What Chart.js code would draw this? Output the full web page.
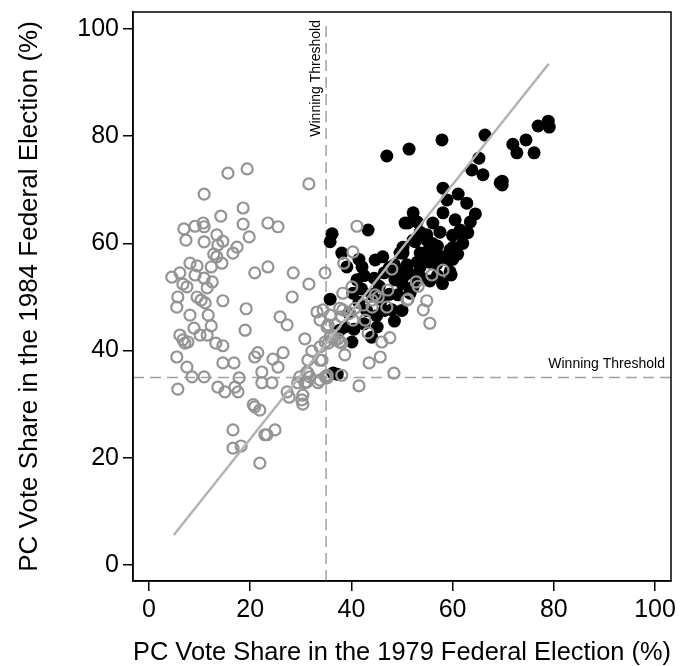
<!DOCTYPE html>
<html>
<head>
<meta charset="utf-8">
<script src="https://cdn.jsdelivr.net/npm/chart.js@4.4.1/dist/chart.umd.min.js"></script>
<style>
  html, body { margin: 0; padding: 0; background: #fff; }
  canvas { display: block; }
</style>
</head>
<body>
<canvas id="grafico" width="691" height="666"></canvas>
<script>
const xTicks = [0, 20, 40, 60, 80, 100];
const yTicks = [0, 20, 40, 60, 80, 100];
const umbral = 35;
const etiquetaUmbral = "Winning Threshold";

// recta ajustada (extremos)
const lineaX = [4.9, 79.0];
const lineaY = [5.6, 93.5];

// escanos perdidos en 1984 (circulos grises)
const grises = [
  [15.6,73.1],[19.4,73.9],[10.9,69.2],[14.2,65.1],[18.6,66.6],[18.6,63.6],[23.5,63.8],[25.5,63.1],
  [6.9,62.7],[9.1,63.2],[10.7,63.8],[10.9,63.1],[7.3,60.6],[10.9,60.3],[13.4,61.6],[14.6,60.4],
  [13.6,59.7],[17.4,59.3],[19.8,61.2],[16.6,58.2],[12.8,58.0],[13.4,57.5],[14.4,56.3],[12.3,55.6],
  [8.1,56.3],[9.5,55.8],[6.1,54.5],[4.5,53.7],[9.1,54.1],[10.9,53.5],[12.5,52.8],[6.7,52.4],
  [7.5,51.9],[11.5,51.7],[9.5,50.0],[5.7,50.0],[10.3,49.4],[11.1,48.9],[14.6,49.3],[20.9,54.5],
  [23.5,55.6],[19.2,47.8],[5.5,48.1],[31.6,71.1],[28.5,54.5],[31.6,52.4],[28.3,50.0],[34.8,54.5],
  [8.1,46.6],[11.7,46.6],[12.3,44.6],[8.9,44.2],[19.0,43.8],[6.1,42.9],[6.7,42.0],[7.7,41.6],
  [7.1,41.4],[10.1,42.9],[11.5,42.9],[13.2,41.4],[14.6,40.9],[5.5,38.8],[7.5,36.9],[8.5,35.1],
  [10.9,35.1],[14.6,37.7],[16.8,37.7],[20.9,38.8],[21.5,39.6],[17.8,34.9],[13.6,33.2],[15.0,32.3],
  [17.0,33.2],[17.6,32.3],[5.7,32.8],[22.3,36.0],[22.3,34.0],[20.6,29.9],[20.9,29.5],[21.9,28.9],
  [16.6,25.2],[16.6,21.8],[18.2,22.2],[21.9,19.0],[22.9,24.3],[25.9,46.3],[27.3,44.8],[30.8,42.2],
  [32.2,39.9],[26.5,39.6],[24.5,38.4],[25.5,36.9],[24.3,34.0],[31.4,38.2],[33.8,38.2],[31.2,36.0],
  [29.8,35.1],[31.8,35.1],[31.2,34.1],[33.8,34.5],[35.2,34.9],[27.3,32.3],[27.7,31.3],[30.4,31.7],
  [30.2,30.8],[30.4,30.0],[24.9,25.2],[23.3,24.3],[33.2,47.2],[34.4,47.6],[33.8,45.7],[35.4,44.8],
  [37.7,47.9],[38.3,50.7],[36.4,42.4],[35.4,41.4],[37.4,42.2],[38.1,41.4],[38.7,39.2],[34.8,35.1],
  [38.1,35.4],[31.4,35.8],[30.8,34.0],[29.4,34.0],[33.4,34.0],[41.1,63.2],[40.3,58.4],[38.5,56.3],
  [48.0,55.2],[52.8,52.8],[40.1,51.9],[44.7,50.4],[47.2,51.3],[44.1,49.4],[45.3,50.0],[51.0,49.4],
  [47.0,48.1],[44.1,48.1],[42.3,48.5],[40.7,47.9],[39.7,47.0],[40.3,45.7],[38.3,47.6],[38.1,46.3],
  [35.8,46.6],[35.2,44.4],[36.8,44.8],[42.7,45.7],[43.3,43.3],[35.8,42.5],[36.8,42.0],[37.7,41.6],
  [34.8,41.6],[33.8,40.7],[46.0,41.6],[47.6,42.4],[45.7,38.8],[43.5,37.7],[34.2,38.2],[35.2,35.4],
  [48.4,35.8],[41.5,33.4],[58.1,55.0],[55.9,54.1],[53.2,52.0],[51.2,49.6],[54.9,49.3],[54.2,47.6],
  [55.5,45.1]
];

// escanos ganados (circulos negros)
const negros = [
  [36.2,61.8],[35.8,60.3],[43.3,62.5],[38.1,58.2],[39.1,55.6],[42.1,55.6],[44.7,56.9],[46.2,57.5],
  [49.6,58.2],[51.0,55.0],[48.6,53.2],[51.6,51.3],[41.1,53.2],[40.3,50.7],[49.2,50.4],[48.0,47.6],
  [35.8,49.6],[38.7,44.4],[37.7,43.8],[45.1,44.4],[40.1,41.6],[36.4,35.8],[37.2,35.6],[50.6,63.8],
  [52.2,60.6],[53.0,64.0],[63.8,73.7],[66.0,72.8],[69.4,71.3],[58.1,70.3],[61.1,69.2],[62.8,67.5],
  [52.2,65.7],[51.2,63.8],[58.1,65.7],[60.5,64.4],[56.1,63.8],[62.1,61.6],[53.6,62.1],[57.5,62.1],
  [52.6,60.3],[54.9,60.6],[59.5,58.8],[60.1,59.3],[50.2,58.2],[53.6,58.2],[56.1,58.4],[51.0,56.0],
  [53.6,55.6],[57.9,57.5],[59.1,56.9],[59.5,54.7],[50.2,53.7],[52.2,51.9],[51.6,50.7],[56.9,56.2],
  [51.4,77.6],[57.9,79.3],[66.4,80.2],[65.2,75.9],[69.8,71.6],[69.8,70.9],[71.9,78.5],[74.5,79.3],
  [72.7,76.9],[76.1,76.9],[76.9,81.9],[78.9,82.8],[79.1,81.7],[58.9,68.1],[59.7,54.1],[54.9,61.6],
  [50.2,59.3],[47.0,76.3],[41.5,57.0],[42.5,54.0],[44.5,53.5],[45.5,52.0],[46.5,54.5],[47.5,55.5],
  [48.5,56.0],[49.0,54.0],[50.0,52.5],[50.5,55.0],[52.5,54.0],[53.0,56.5],[54.5,57.0],[55.0,58.5],
  [56.0,60.0],[57.0,59.5],[55.5,56.5],[54.0,53.5],[55.5,53.0],[57.0,54.0],[58.0,52.5],[60.0,57.0],
  [61.0,58.0],[62.0,60.0],[63.0,62.0],[61.5,62.5],[60.0,61.5],[63.5,64.0],[64.5,65.5],[44.0,50.5],
  [46.0,49.5],[47.5,50.5],[43.0,47.5],[45.0,46.5],[42.5,45.0],[39.5,47.0],[41.5,49.0],[42.0,51.5],
  [48.5,45.5],[50.0,47.5],[44.0,42.5],[40.5,44.0],[46.5,47.5]
];

const fuente = "'Liberation Sans', Arial, Helvetica, sans-serif";

const aPuntos = arr => arr.map(p => ({ x: p[0], y: p[1] }));

// lineas de umbral y marco
const umbralPlugin = {
  id: "umbral",
  beforeDatasetsDraw(chart) {
    const { ctx, chartArea, scales } = chart;
    const px = scales.x.getPixelForValue(umbral);
    const py = scales.y.getPixelForValue(umbral);
    ctx.save();
    ctx.strokeStyle = "#a0a0a0";
    ctx.lineWidth = 1.5;
    ctx.setLineDash([11, 6]);
    ctx.beginPath();
    ctx.moveTo(px, chartArea.bottom);
    ctx.lineTo(px, chartArea.top + 8);
    ctx.moveTo(chartArea.left, py);
    ctx.lineTo(chartArea.right, py);
    ctx.stroke();
    ctx.setLineDash([]);
    ctx.fillStyle = "#000";
    ctx.font = "14px " + fuente;
    ctx.textAlign = "right";
    ctx.textBaseline = "middle";
    ctx.fillText(etiquetaUmbral, chartArea.right - 6, py - 13);
    ctx.translate(px - 10, chartArea.top + 8);
    ctx.rotate(-Math.PI / 2);
    ctx.fillText(etiquetaUmbral, 0, 0);
    ctx.restore();
  },
  afterDraw(chart) {
    const { ctx, chartArea } = chart;
    ctx.save();
    ctx.strokeStyle = "#000";
    ctx.lineWidth = 1.5;
    ctx.strokeRect(chartArea.left, chartArea.top, chartArea.right - chartArea.left, chartArea.bottom - chartArea.top);
    ctx.restore();
  }
};

const soloTicks = vals => scale => { scale.ticks = vals.map(v => ({ value: v })); };
const sinRelleno = s => { s.paddingTop = 0; s.paddingBottom = 0; s.paddingLeft = 0; s.paddingRight = 0; };

new Chart(document.getElementById("grafico"), {
  type: "scatter",
  data: {
    datasets: [
      {
        type: "line",
        data: lineaX.map((x, i) => ({ x, y: lineaY[i] })),
        borderColor: "#b3b3b3",
        borderWidth: 2.5,
        pointRadius: 0,
        fill: false
      },
      {
        data: aPuntos(grises),
        pointRadius: 5.5,
        borderWidth: 2.2,
        borderColor: "#949494",
        backgroundColor: "rgba(255,255,255,0)"
      },
      {
        data: aPuntos(negros),
        pointRadius: 6.5,
        borderWidth: 0,
        backgroundColor: "#000"
      }
    ]
  },
  options: {
    responsive: false,
    animation: false,
    layout: { padding: { top: 12, right: 20, left: 0, bottom: 0 } },
    plugins: { legend: { display: false }, tooltip: { enabled: false } },
    scales: {
      x: {
        type: "linear",
        min: -3.16,
        max: 103.16,
        afterBuildTicks: soloTicks(xTicks),
        afterFit(scale) { scale.height = 85; sinRelleno(scale); },
        grid: { drawOnChartArea: false, drawTicks: true, tickLength: 10, color: "#000", lineWidth: 1.5 },
        border: { display: true, color: "#000", width: 1.5 },
        ticks: { color: "#000", font: { family: fuente, size: 25 }, padding: 4, maxRotation: 0 },
        title: {
          display: true,
          text: "PC Vote Share in the 1979 Federal Election (%)",
          color: "#000",
          font: { family: fuente, size: 26, lineHeight: 1.0 },
          padding: { top: 0, bottom: 0 }
        }
      },
      y: {
        type: "linear",
        min: -2.99,
        max: 103.17,
        afterBuildTicks: soloTicks(yTicks),
        afterFit(scale) { scale.width = 133; sinRelleno(scale); },
        grid: { drawOnChartArea: false, drawTicks: true, tickLength: 10, color: "#000", lineWidth: 1.5 },
        border: { display: true, color: "#000", width: 1.5 },
        ticks: { color: "#000", font: { family: fuente, size: 25 }, padding: 4 },
        title: {
          display: true,
          text: "PC Vote Share in the 1984 Federal Election (%)",
          color: "#000",
          font: { family: fuente, size: 26, lineHeight: 1.2 },
          padding: { top: 14, bottom: 0 }
        }
      }
    }
  },
  plugins: [umbralPlugin]
});
</script>
</body>
</html>
